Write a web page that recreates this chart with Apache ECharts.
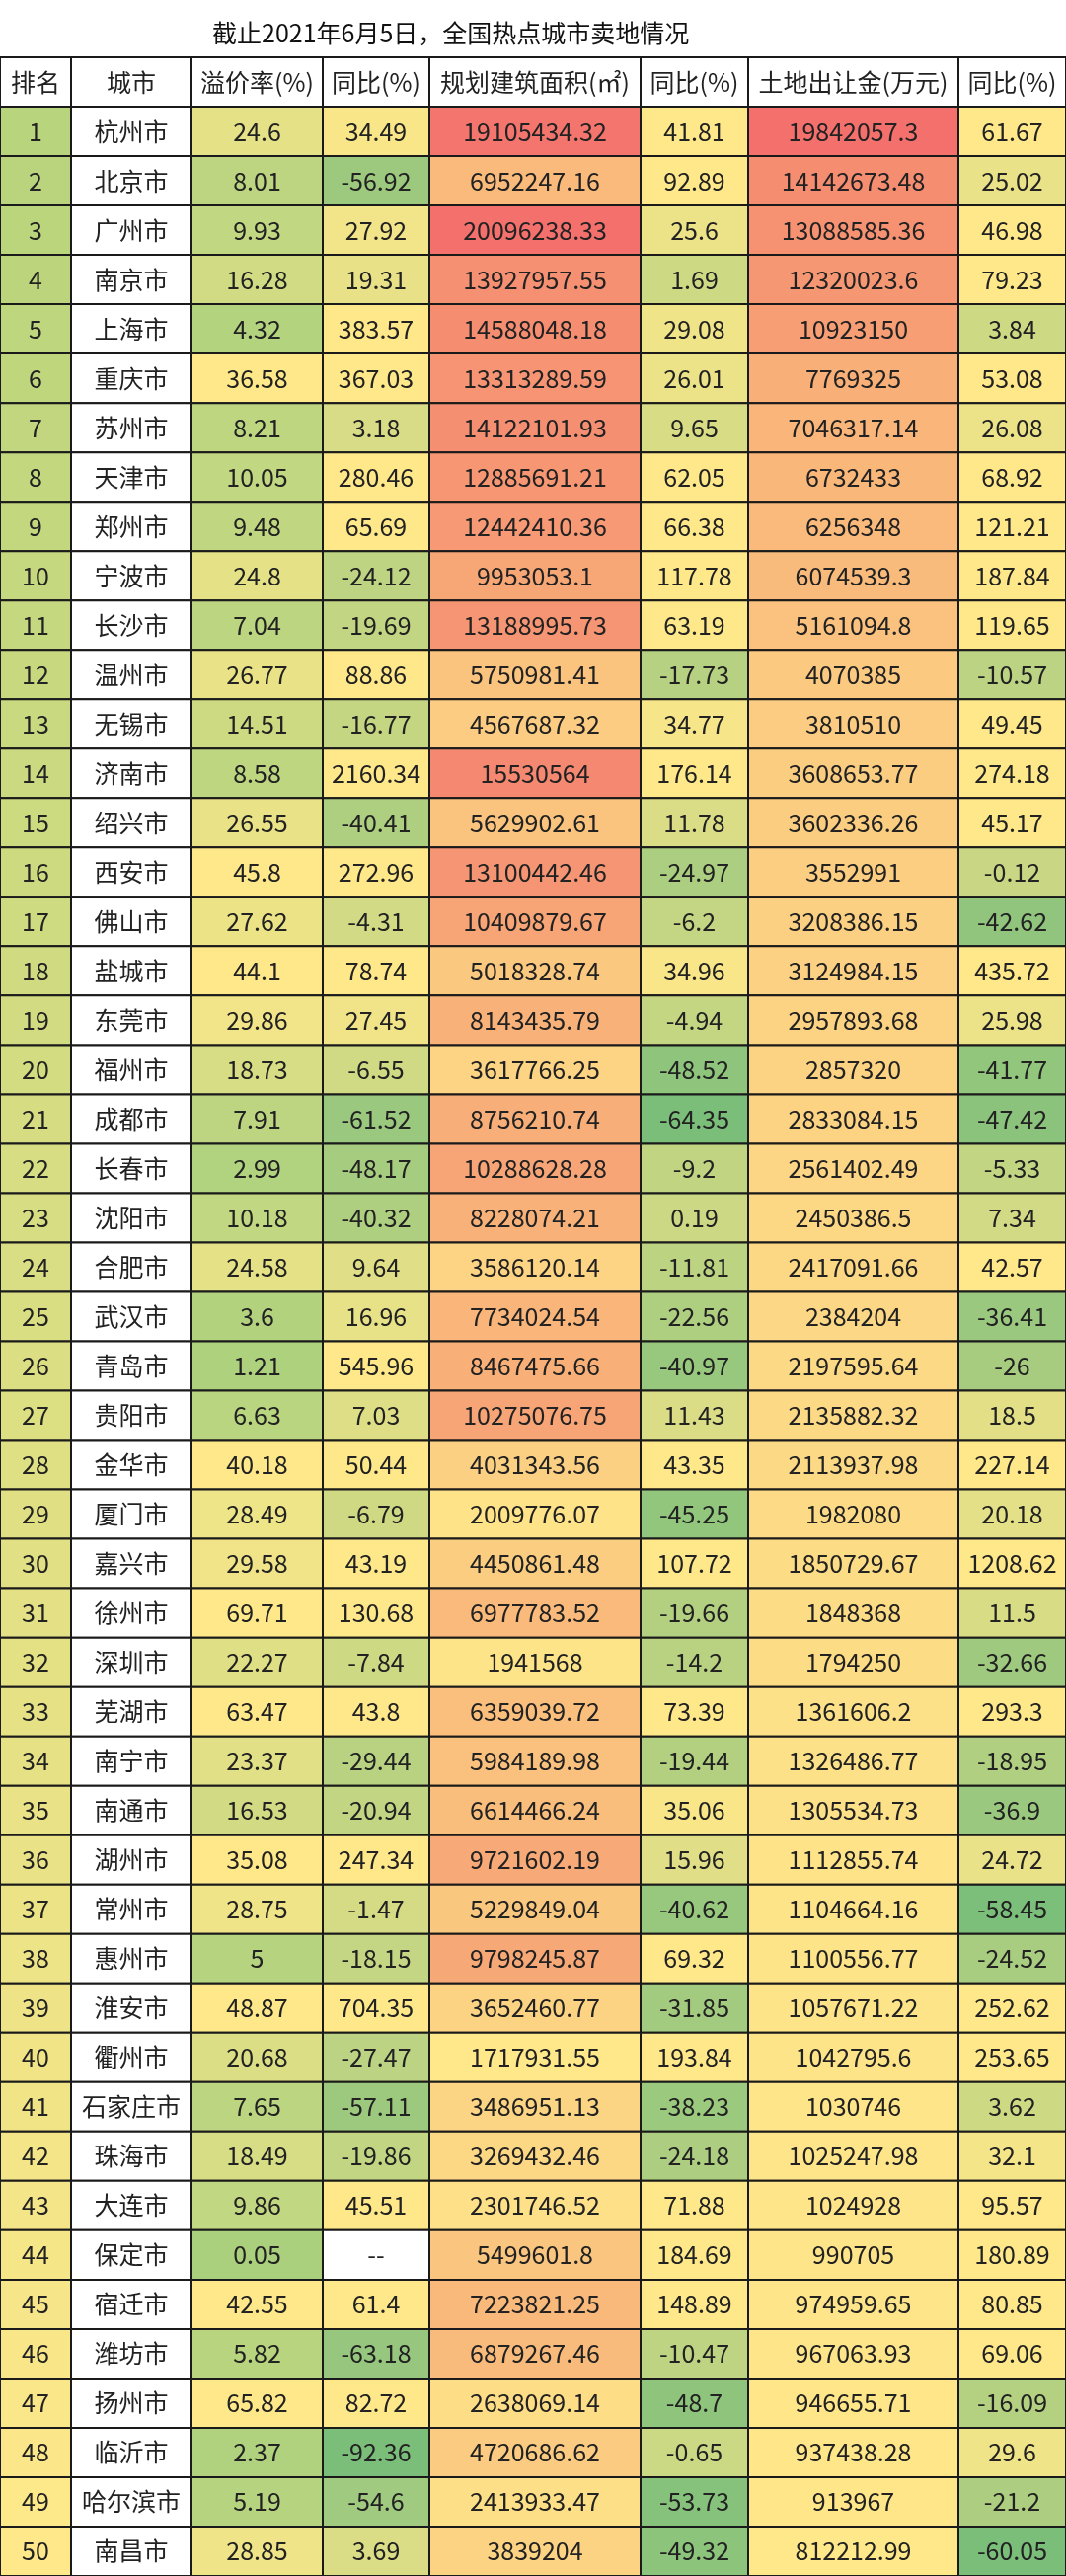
<!DOCTYPE html>
<html><head><meta charset="utf-8">
<script src="https://cdn.jsdelivr.net/npm/echarts@6/dist/echarts.min.js"></script>
<style>html,body{margin:0;padding:0;background:#fff}#c{width:1080px;height:2609px}</style>
</head><body><div id="c"></div>
<script>
const title = '截止2021年6月5日，全国热点城市卖地情况';
const headers = ['排名','城市','溢价率(%)','同比(%)','规划建筑面积(㎡)','同比(%)','土地出让金(万元)','同比(%)'];
const cities = ['杭州市','北京市','广州市','南京市','上海市','重庆市','苏州市','天津市','郑州市','宁波市','长沙市','温州市','无锡市','济南市','绍兴市','西安市','佛山市','盐城市','东莞市','福州市','成都市','长春市','沈阳市','合肥市','武汉市','青岛市','贵阳市','金华市','厦门市','嘉兴市','徐州市','深圳市','芜湖市','南宁市','南通市','湖州市','常州市','惠州市','淮安市','衢州市','石家庄市','珠海市','大连市','保定市','宿迁市','潍坊市','扬州市','临沂市','哈尔滨市','南昌市'];
const premium = [24.6,8.01,9.93,16.28,4.32,36.58,8.21,10.05,9.48,24.8,7.04,26.77,14.51,8.58,26.55,45.8,27.62,44.1,29.86,18.73,7.91,2.99,10.18,24.58,3.6,1.21,6.63,40.18,28.49,29.58,69.71,22.27,63.47,23.37,16.53,35.08,28.75,5,48.87,20.68,7.65,18.49,9.86,0.05,42.55,5.82,65.82,2.37,5.19,28.85];
const premiumYoY = [34.49,-56.92,27.92,19.31,383.57,367.03,3.18,280.46,65.69,-24.12,-19.69,88.86,-16.77,2160.34,-40.41,272.96,-4.31,78.74,27.45,-6.55,-61.52,-48.17,-40.32,9.64,16.96,545.96,7.03,50.44,-6.79,43.19,130.68,-7.84,43.8,-29.44,-20.94,247.34,-1.47,-18.15,704.35,-27.47,-57.11,-19.86,45.51,null,61.4,-63.18,82.72,-92.36,-54.6,3.69];
const area = [19105434.32,6952247.16,20096238.33,13927957.55,14588048.18,13313289.59,14122101.93,12885691.21,12442410.36,9953053.1,13188995.73,5750981.41,4567687.32,15530564,5629902.61,13100442.46,10409879.67,5018328.74,8143435.79,3617766.25,8756210.74,10288628.28,8228074.21,3586120.14,7734024.54,8467475.66,10275076.75,4031343.56,2009776.07,4450861.48,6977783.52,1941568,6359039.72,5984189.98,6614466.24,9721602.19,5229849.04,9798245.87,3652460.77,1717931.55,3486951.13,3269432.46,2301746.52,5499601.8,7223821.25,6879267.46,2638069.14,4720686.62,2413933.47,3839204];
const areaYoY = [41.81,92.89,25.6,1.69,29.08,26.01,9.65,62.05,66.38,117.78,63.19,-17.73,34.77,176.14,11.78,-24.97,-6.2,34.96,-4.94,-48.52,-64.35,-9.2,0.19,-11.81,-22.56,-40.97,11.43,43.35,-45.25,107.72,-19.66,-14.2,73.39,-19.44,35.06,15.96,-40.62,69.32,-31.85,193.84,-38.23,-24.18,71.88,184.69,148.89,-10.47,-48.7,-0.65,-53.73,-49.32];
const land = [19842057.3,14142673.48,13088585.36,12320023.6,10923150,7769325,7046317.14,6732433,6256348,6074539.3,5161094.8,4070385,3810510,3608653.77,3602336.26,3552991,3208386.15,3124984.15,2957893.68,2857320,2833084.15,2561402.49,2450386.5,2417091.66,2384204,2197595.64,2135882.32,2113937.98,1982080,1850729.67,1848368,1794250,1361606.2,1326486.77,1305534.73,1112855.74,1104664.16,1100556.77,1057671.22,1042795.6,1030746,1025247.98,1024928,990705,974959.65,967063.93,946655.71,937438.28,913967,812212.99];
const landYoY = [61.67,25.02,46.98,79.23,3.84,53.08,26.08,68.92,121.21,187.84,119.65,-10.57,49.45,274.18,45.17,-0.12,-42.62,435.72,25.98,-41.77,-47.42,-5.33,7.34,42.57,-36.41,-26,18.5,227.14,20.18,1208.62,11.5,-32.66,293.3,-18.95,-36.9,24.72,-58.45,-24.52,252.62,253.65,3.62,32.1,95.57,180.89,80.85,69.06,-16.09,29.6,-21.2,-60.05];

const colEdges = [0,72,194,327,435,649,758,971,1080];
const G=[122,190,122], LG=[170,208,125], Y=[254,232,138], O=[248,176,120], R=[243,112,108];
function mix(a,b,t){t=Math.max(0,Math.min(1,t));return 'rgb('+a.map((v,i)=>Math.round(v+(b[i]-v)*t)).join(',')+')';}
function yr(v,min,max){const t=Math.pow((v-min)/(max-min),0.8); return t<0.45?mix(Y,O,t/0.45):mix(O,R,(t-0.45)/0.55);}
function fmt(v){return v==null?'--':String(v);}
const cells=[];
headers.forEach((h,c)=>cells.push([colEdges[c],colEdges[c+1],0,h,'#ffffff']));
const amin=Math.min(...area),amax=Math.max(...area),lmin=Math.min(...land),lmax=Math.max(...land);
function yoyCol(arr){const mn=Math.min(...arr.filter(v=>v!=null));return v=>v==null?'#ffffff':mix(G,Y,(v-mn)/(40-mn));}
const c3=yoyCol(premiumYoY),c5=yoyCol(areaYoY),c7=yoyCol(landYoY);
cities.forEach((city,i)=>{
  const r=i+1;
  const vals=[r,city,premium[i],premiumYoY[i],area[i],areaYoY[i],land[i],landYoY[i]];
  const cols=[mix([184,212,124],Y,i/49),'#ffffff',mix(LG,Y,(premium[i]-0.05)/35),c3(premiumYoY[i]),yr(area[i],amin,amax),c5(areaYoY[i]),yr(land[i],lmin,lmax),c7(landYoY[i])];
  vals.forEach((v,c)=>cells.push([colEdges[c],colEdges[c+1],r,fmt(v),cols[c]]));
});
const rows=['h'].concat(cities.map((_,i)=>String(i+1)));
const chart=echarts.init(document.getElementById('c'));
chart.setOption({
  animation:false,
  title:{text:title,left:210,top:16,textStyle:{fontSize:25,fontWeight:'normal',color:'#111',fontFamily:'Liberation Sans Narrow, Noto Sans CJK SC'}},
  grid:{left:0,right:0,top:58,bottom:0},
  xAxis:{type:'value',min:0,max:1080,show:false},
  yAxis:{type:'category',data:rows,inverse:true,show:false},
  series:[{type:'custom',data:cells,encode:{x:[0,1],y:2},
    renderItem:function(params,api){
      const p0=api.coord([api.value(0),api.value(2)]);
      const p1=api.coord([api.value(1),api.value(2)]);
      const h=api.size([0,1])[1];
      const txt=cells[params.dataIndex][3], col=cells[params.dataIndex][4];
      return {type:'rect',shape:{x:p0[0],y:p0[1]-h/2,width:p1[0]-p0[0],height:h},
        style:{fill:col,stroke:'#1a1a1a',lineWidth:2,text:txt,textFill:'#222',fontSize:25,fontFamily:'Liberation Sans Narrow, Noto Sans CJK SC'}};
    }}]
});
</script></body></html>
